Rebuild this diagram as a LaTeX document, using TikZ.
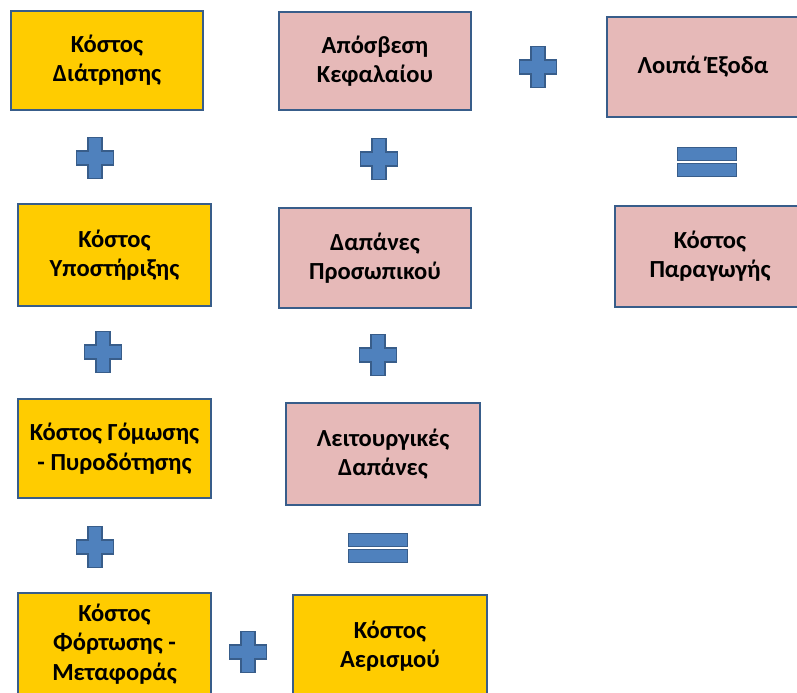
\documentclass[tikz,border=0pt]{standalone}
\usepackage{fontspec}
\setmainfont{Carlito}
\definecolor{boxline}{HTML}{385D8A}
\definecolor{gold}{HTML}{FFCC00}
\definecolor{rose}{HTML}{E6B9B8}
\definecolor{signfill}{HTML}{4F81BD}
\begin{document}
\begin{tikzpicture}[x=0.75pt,y=-0.75pt,
  cell/.style 2 args={draw=boxline, line width=1.7pt, align=center,
    inner sep=0pt, minimum width=#1*0.75pt, minimum height=#2*0.75pt,
    font=\fontsize{18.4pt}{22pt}\selectfont\bfseries},
  yellowcell/.style 2 args={cell={#1}{#2}, fill=gold},
  rosecell/.style 2 args={cell={#1}{#2}, fill=rose},
  sign/.style={draw=boxline, fill=signfill, line width=1.2pt, line join=miter},
  plus/.pic={\path[sign] (-18.5,-7) -- (-7,-7) -- (-7,-20.5) -- (7,-20.5) -- (7,-7)
      -- (18.5,-7) -- (18.5,7) -- (7,7) -- (7,20.5) -- (-7,20.5) -- (-7,7)
      -- (-18.5,7) -- cycle;},
  equals/.pic={\path[sign] (-29.5,-14.5) rectangle (29.5,-1.5);
      \path[sign] (-29.5,1.5) rectangle (29.5,14.5);}
]
\useasboundingbox (0,0) rectangle (797,693);
\clip (0,0) rectangle (797,693);

% left column: drilling, support, charging, loading
\node[yellowcell={192}{99}]  (drill)   at (107,60.5)   {Κόστος\\Διάτρησης};
\node[yellowcell={193}{102}] (support) at (114.5,255)  {Κόστος\\Υποστήριξης};
\node[yellowcell={193}{99}]  (charge)  at (114.5,448.5){Κόστος Γόμωσης\\- Πυροδότησης};
\node[yellowcell={193}{102}] (haul)    at (114.5,644)  {Κόστος\\Φόρτωσης -\\Μεταφοράς};

% middle column
\node[rosecell={192}{98}]    (capital) at (375,61)     {Απόσβεση\\Κεφαλαίου};
\node[rosecell={192}{100}]   (staff)   at (375,258)    {Δαπάνες\\Προσωπικού};
\node[rosecell={194}{102}]   (opex)    at (383,454)    {Λειτουργικές\\Δαπάνες};
\node[yellowcell={194}{102}] (vent)    at (390,646)    {Κόστος\\Αερισμού};

% right column
\node[rosecell={192}{100}]   (other)   at (703,67)     {Λοιπά Έξοδα};
\node[rosecell={190}{101}]   (prod)    at (710,256.5)  {Κόστος\\Παραγωγής};

% operators
\pic (p1) at (95,158)  {plus};
\pic (p2) at (103,352) {plus};
\pic (p3) at (95,547)  {plus};
\pic (p4) at (248,652) {plus};
\pic (p5) at (379,159) {plus};
\pic (p6) at (378,355) {plus};
\pic (p7) at (538,67)  {plus};
\pic (e1) at (378,548) {equals};
\pic (e2) at (707,162) {equals};
\end{tikzpicture}
\end{document}
